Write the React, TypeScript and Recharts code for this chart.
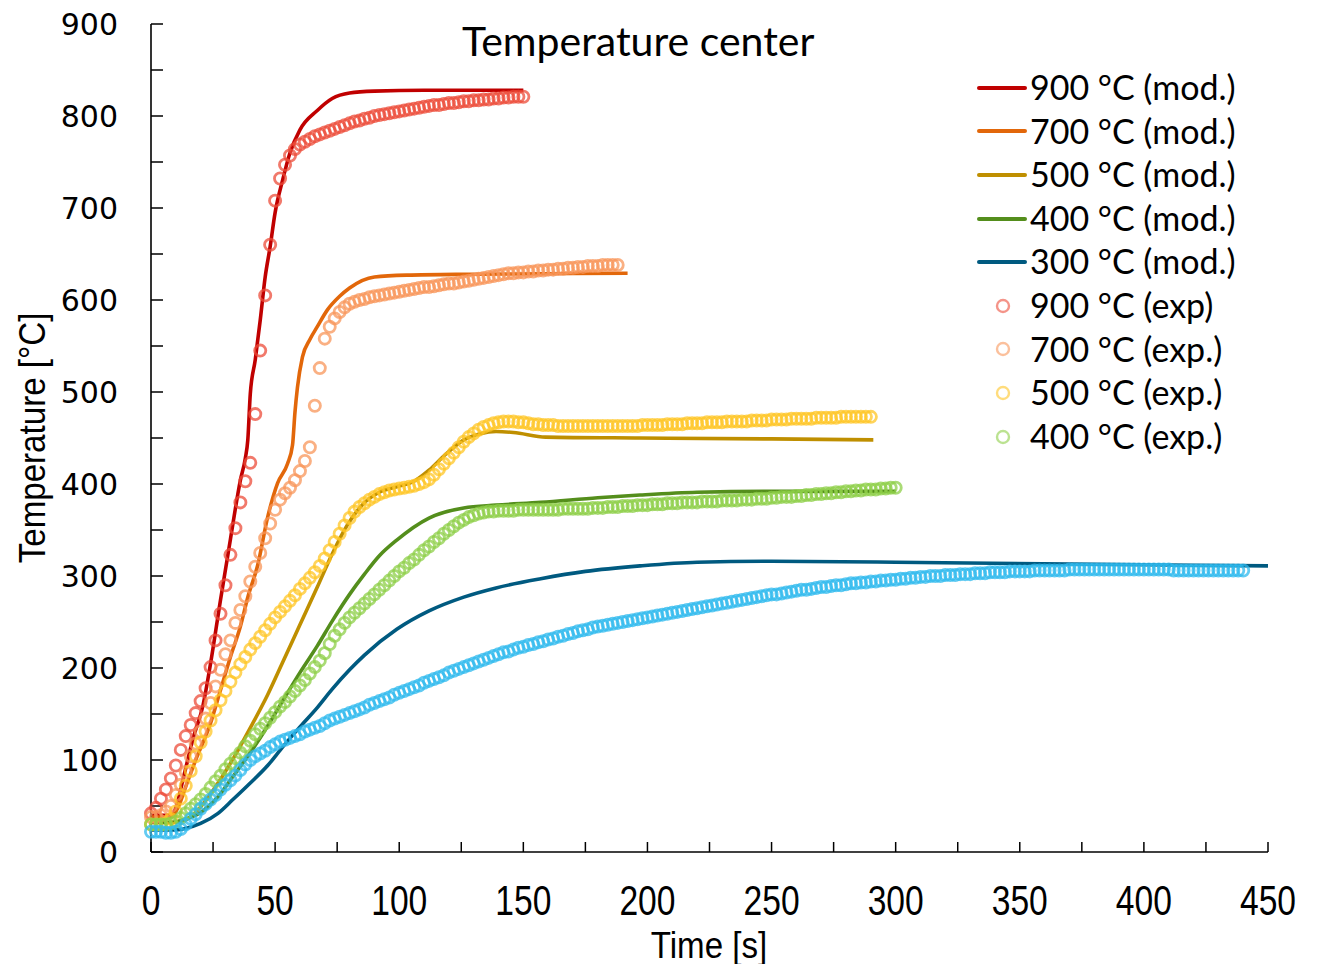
import { ComposedChart, Line, Scatter, XAxis, YAxis } from 'recharts'

// thermocouple log, one reading every STEP seconds starting at t = 0
const STEP = 2

const exp900 = [
  42, 48, 58, 68, 80, 94, 111, 126, 138, 151,
  164, 178, 201, 230, 259, 290, 323, 352, 380, 403,
  423, 476, 545, 605, 660, 708, 732, 747, 757, 764,
  769, 772, 775, 778, 780, 782, 784, 786, 788, 790,
  792, 794, 795, 797, 798, 800, 801, 802, 803, 804,
  805, 806, 807, 808, 809, 810, 811, 812, 812, 813,
  814, 814, 815, 816, 816, 817, 817, 818, 818, 819,
  819, 820, 820, 821, 821, 821,
]

const exp700 = [
  38, 38, 40, 44, 50, 62, 73, 87, 104, 118,
  131, 145, 162, 180, 198, 215, 230, 249, 263, 278,
  294, 310, 325, 341, 357, 372, 383, 390, 396, 404,
  414, 425, 440, 485, 526, 558, 571, 580, 587, 592,
  596, 598, 600, 601, 603, 604, 605, 606, 607, 608,
  609, 610, 611, 612, 613, 614, 614, 615, 616, 617,
  618, 618, 619, 620, 621, 622, 623, 624, 625, 626,
  627, 628, 629, 629, 630, 630, 631, 631, 632, 632,
  633, 633, 634, 634, 635, 635, 636, 636, 637, 637,
  637, 638, 638, 638, 638,
]

const exp500 = [
  30, 30, 30, 31, 36, 44, 58, 72, 88, 104,
  119, 131, 143, 154, 165, 175, 185, 195, 204, 212,
  220, 227, 234, 241, 248, 255, 261, 267, 273, 279,
  286, 292, 298, 304, 311, 319, 328, 337, 346, 355,
  363, 370, 375, 379, 383, 386, 389, 391, 393, 394,
  395, 396, 397, 398, 400, 402, 405, 410, 416, 422,
  428, 434, 440, 446, 451, 455, 459, 462, 464, 466,
  467, 468, 468, 468, 467, 467, 466, 465, 465, 464,
  464, 464, 463, 463, 463, 463, 463, 463, 463, 463,
  463, 463, 463, 463, 463, 463, 463, 463, 463, 464,
  464, 464, 464, 464, 465, 465, 465, 465, 466, 466,
  466, 466, 467, 467, 467, 467, 468, 468, 468, 468,
  468, 469, 469, 469, 469, 470, 470, 470, 470, 471,
  471, 471, 471, 471, 472, 472, 472, 472, 472, 473,
  473, 473, 473, 473, 473, 473,
]

const exp400 = [
  30, 30, 30, 30, 31, 33, 37, 42, 47, 52,
  57, 63, 70, 77, 83, 90, 96, 102, 108, 115,
  121, 128, 134, 140, 146, 152, 158, 163, 169, 175,
  181, 187, 194, 201, 208, 216, 226, 235, 242, 249,
  255, 260, 265, 270, 275, 280, 285, 290, 295, 300,
  305, 309, 314, 318, 323, 328, 332, 337, 341, 346,
  350, 354, 358, 361, 364, 366, 368, 369, 370, 370,
  371, 371, 371, 371, 372, 372, 372, 372, 372, 372,
  372, 372, 372, 373, 373, 373, 373, 373, 373, 374,
  374, 374, 375, 375, 375, 376, 376, 376, 377, 377,
  377, 378, 378, 378, 379, 379, 379, 380, 380, 380,
  380, 381, 381, 381, 381, 382, 382, 382, 382, 383,
  383, 383, 384, 384, 384, 385, 385, 386, 386, 386,
  387, 387, 388, 388, 389, 389, 390, 390, 391, 391,
  392, 392, 393, 393, 394, 394, 394, 395, 395, 396,
  396,
]

const exp300 = [
  22, 22, 22, 21, 21, 22, 25, 30, 36, 41,
  47, 52, 57, 62, 68, 73, 78, 83, 89, 95,
  100, 104, 107, 110, 114, 117, 120, 122, 124, 126,
  128, 131, 133, 135, 137, 140, 143, 145, 147, 149,
  151, 153, 155, 157, 160, 162, 164, 166, 168, 171,
  173, 175, 177, 179, 181, 184, 186, 188, 190, 192,
  195, 197, 199, 201, 203, 205, 207, 209, 211, 213,
  215, 217, 218, 220, 222, 223, 225, 226, 228, 229,
  231, 232, 234, 235, 237, 238, 240, 241, 242, 244,
  245, 246, 247, 248, 249, 250, 251, 252, 253, 254,
  255, 256, 257, 258, 259, 260, 261, 262, 263, 264,
  265, 266, 267, 268, 269, 270, 271, 272, 273, 274,
  275, 276, 277, 278, 279, 280, 280, 281, 282, 283,
  284, 285, 285, 286, 287, 288, 288, 289, 290, 290,
  291, 292, 292, 293, 293, 294, 294, 295, 295, 296,
  296, 297, 297, 298, 298, 299, 299, 300, 300, 300,
  301, 301, 301, 302, 302, 302, 303, 303, 303, 304,
  304, 304, 304, 305, 305, 305, 305, 305, 306, 306,
  306, 306, 306, 306, 306, 307, 307, 307, 307, 307,
  307, 307, 307, 307, 307, 307, 307, 307, 307, 307,
  307, 307, 307, 307, 307, 307, 306, 306, 306, 306,
  306, 306, 306, 306, 306, 306, 306, 306, 306, 306,
  306,
]

// model output as [time s, temperature °C]
const mod900: [number, number][] = [
  [0, 40], [8, 40], [10, 48], [13, 80], [17, 124], [21, 160], [24, 205], [28, 274],
  [32, 340], [36, 404], [38, 428], [39, 448], [40, 498], [42, 535], [44, 578],
  [46, 625], [48, 658], [50, 695], [53, 730], [56, 760], [60, 785], [67, 806],
  [73, 819], [80, 825], [90, 827], [110, 828], [150, 828],
]

const mod700: [number, number][] = [
  [0, 38], [8, 38], [11, 49], [14, 71], [18, 100], [24, 140], [28, 176], [32, 212],
  [36, 245], [39, 277], [43, 312], [47, 364], [51, 401], [55, 422], [57, 442],
  [58, 478], [59, 505], [61, 538], [64, 557], [67, 571], [71, 589], [76, 604],
  [80, 613], [90, 625], [103, 627], [130, 628], [192, 629],
]

const mod500: [number, number][] = [
  [0, 32], [8, 32], [14, 35], [20, 49], [26, 71], [33, 101], [40, 135], [47, 171],
  [53, 206], [60, 247], [67, 288], [73, 324], [79, 355], [85, 377], [92, 391],
  [99, 397], [106, 403], [112, 415], [119, 433], [126, 448], [133, 455], [139, 457],
  [146, 456], [159, 451], [197, 450], [250, 449], [291, 448],
]

const mod400: [number, number][] = [
  [0, 32], [8, 32], [13, 35], [20, 43], [27, 60], [33, 82], [40, 108], [47, 137],
  [53, 164], [60, 195], [67, 224], [73, 251], [80, 280], [86, 302], [92, 322],
  [99, 339], [112, 363], [126, 374], [139, 377], [157, 380], [180, 385],
  [197, 388], [220, 391], [250, 392], [300, 392],
]

const mod300: [number, number][] = [
  [0, 24], [10, 24], [13, 25], [20, 31], [27, 42], [33, 57], [40, 75], [47, 94],
  [53, 114], [60, 136], [67, 157], [73, 177], [80, 198], [86, 214], [99, 242],
  [112, 262], [126, 277], [139, 287], [157, 297], [175, 305], [197, 311],
  [220, 315], [250, 316], [300, 315], [370, 313], [450, 311],
]

const xTicks = [0, 25, 50, 75, 100, 125, 150, 175, 200, 225, 250, 275, 300, 325, 350, 375, 400, 425, 450]
const yTicks = [0, 50, 100, 150, 200, 250, 300, 350, 400, 450, 500, 550, 600, 650, 700, 750, 800, 850, 900]

const fromLog = (temps: number[]) => temps.map((T, i) => ({ t: i * STEP, T }))
const fromPairs = (pairs: [number, number][]) => pairs.map(([t, T]) => ({ t, T }))

const models = [
  { name: '900 °C (mod.)', color: '#C00000', data: fromPairs(mod900) },
  { name: '700 °C (mod.)', color: '#E2670A', data: fromPairs(mod700) },
  { name: '500 °C (mod.)', color: '#BF8F00', data: fromPairs(mod500) },
  { name: '400 °C (mod.)', color: '#548E1C', data: fromPairs(mod400) },
  { name: '300 °C (mod.)', color: '#005A80', data: fromPairs(mod300) },
]

const measured = [
  { name: '900 °C (exp)', color: '#EC4C3A', data: fromLog(exp900), inLegend: true },
  { name: '700 °C (exp.)', color: '#F8965A', data: fromLog(exp700), inLegend: true },
  { name: '500 °C (exp.)', color: '#FFC524', data: fromLog(exp500), inLegend: true },
  { name: '400 °C (exp.)', color: '#8ECF48', data: fromLog(exp400), inLegend: true },
  { name: '300 °C (exp.)', color: '#2FBAEE', data: fromLog(exp300), inLegend: false },
]

const ring = (color: string) => (props: any) => (
  <circle
    cx={props.cx}
    cy={props.cy}
    r={5.6}
    fill="none"
    stroke={color}
    strokeWidth={2.8}
    strokeOpacity={0.75}
  />
)

function TimeTick({ x, y, payload }: any) {
  if (payload.value % 50 !== 0) return <g />
  return (
    <text
      x={0}
      y={0}
      textAnchor="middle"
      fontFamily="Liberation Sans, Arial, sans-serif"
      fontSize={42}
      fill="#000"
      transform={`translate(${x} ${y + 63}) scale(0.8 1)`}
    >
      {payload.value}
    </text>
  )
}

function TempTick({ x, y, payload }: any) {
  if (payload.value % 100 !== 0) return <g />
  return (
    <text
      x={x}
      y={y}
      dy="0.36em"
      textAnchor="end"
      fontFamily="DejaVu Sans, sans-serif"
      fontSize={30}
      fill="#000"
    >
      {payload.value}
    </text>
  )
}

const axisFont = 'Liberation Sans, Arial, sans-serif'
const textFont = 'Lato, sans-serif'

function SeriesKey() {
  const rows = [
    ...models.map((m) => ({ name: m.name, color: m.color, kind: 'line' })),
    ...measured.filter((m) => m.inLegend).map((m) => ({ name: m.name, color: m.color, kind: 'ring' })),
  ]
  return (
    <div style={{ position: 'absolute', left: 976, top: 66, fontFamily: textFont, fontSize: 34 }}>
      {rows.map((r) => (
        <div key={r.name} style={{ display: 'flex', alignItems: 'center', height: 43.6, whiteSpace: 'nowrap' }}>
          <svg width={54} height={20} style={{ flex: 'none' }}>
            {r.kind === 'line' ? (
              <line x1={3} x2={49} y1={10} y2={10} stroke={r.color} strokeWidth={4} strokeLinecap="round" />
            ) : (
              <circle cx={27} cy={10} r={6} fill="none" stroke={r.color} strokeWidth={2.4} strokeOpacity={0.6} />
            )}
          </svg>
          <span style={{ lineHeight: '43.6px', marginTop: -2 }}>{r.name}</span>
        </div>
      ))}
    </div>
  )
}

export default function App() {
  return (
    <div style={{ position: 'absolute', left: 0, top: 0, width: 1317, height: 964, background: '#fff' }}>
      <ComposedChart width={1317} height={964} margin={{ top: 24, right: 49, bottom: 52, left: 31 }}>
        <XAxis
          dataKey="t"
          type="number"
          domain={[0, 450]}
          ticks={xTicks}
          interval={0}
          height={60}
          axisLine={{ stroke: '#000', strokeWidth: 1.6 }}
          tickLine={{ stroke: '#000', strokeWidth: 1.5 }}
          tickSize={-10}
          tickMargin={10}
          tick={<TimeTick />}
        />
        <YAxis
          dataKey="T"
          type="number"
          domain={[0, 900]}
          ticks={yTicks}
          interval={0}
          width={120}
          axisLine={{ stroke: '#000', strokeWidth: 1.6 }}
          tickLine={{ stroke: '#000', strokeWidth: 1.5 }}
          tickSize={-12}
          tickMargin={45}
          tick={<TempTick />}
        />
        {measured.map((m) => (
          <Scatter
            key={m.name}
            name={m.name}
            data={m.data}
            dataKey="T"
            shape={ring(m.color)}
            isAnimationActive={false}
          />
        ))}
        {models.map((m) => (
          <Line
            key={m.name}
            name={m.name}
            data={m.data}
            dataKey="T"
            type="monotone"
            stroke={m.color}
            strokeWidth={3.6}
            dot={false}
            activeDot={false}
            isAnimationActive={false}
          />
        ))}
      </ComposedChart>

      <div style={{ position: 'absolute', left: 462, top: 20, fontFamily: textFont, fontSize: 41, lineHeight: 1, whiteSpace: 'nowrap' }}>
        Temperature center
      </div>
      <div
        style={{
          position: 'absolute',
          left: 709,
          top: 946,
          fontFamily: axisFont,
          fontSize: 36,
          lineHeight: 1,
          whiteSpace: 'nowrap',
          transform: 'translate(-50%, -50%) scaleX(0.92)',
        }}
      >
        Time [s]
      </div>
      <div
        style={{
          position: 'absolute',
          left: 33,
          top: 438,
          fontFamily: axisFont,
          fontSize: 36,
          lineHeight: 1,
          whiteSpace: 'nowrap',
          transform: 'translate(-50%, -50%) rotate(-90deg) scaleX(0.92)',
        }}
      >
        Temperature [°C]
      </div>
      <SeriesKey />
    </div>
  )
}
